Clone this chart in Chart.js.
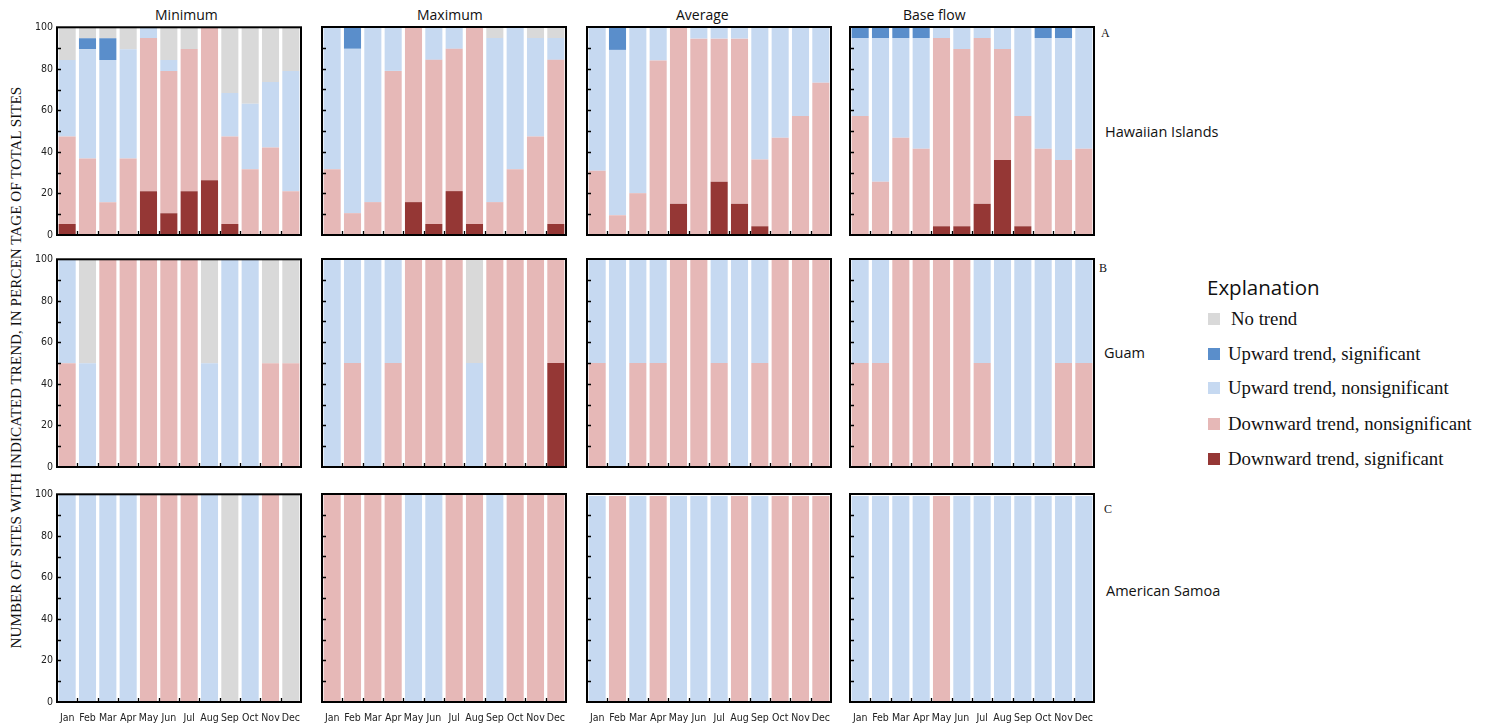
<!DOCTYPE html>
<html>
<head>
<meta charset="utf-8">
<script src="https://cdn.jsdelivr.net/npm/chart.js@4.4.1/dist/chart.umd.min.js"></script>
<style>
  body { margin: 0; background: #fff; width: 1492px; height: 727px; position: relative; overflow: hidden; font-family: 'Open Sans', sans-serif; color: #111; }
  canvas { position: absolute; }
  .t { position: absolute; white-space: nowrap; line-height: 1; }
  .serif { font-family: 'Liberation Serif', 'DejaVu Serif', serif; }
  .sw { position: absolute; width: 12px; height: 12px; }
</style>
</head>
<body>

<div class="t" style="left:155px; top:8px; font-size:14px;">Minimum</div>
<div class="t" style="left:417px; top:8px; font-size:14px;">Maximum</div>
<div class="t" style="left:676px; top:8px; font-size:14px;">Average</div>
<div class="t" style="left:903px; top:8px; font-size:14px;">Base flow</div>

<div class="t serif" style="left:-334px; top:360px; width:700px; text-align:center; font-size:15.2px; transform: rotate(-90deg);">NUMBER OF SITES WITH INDICATED TREND, IN PERCEN TAGE OF TOTAL SITES</div>

<div class="t serif" style="left:1101px; top:27px; font-size:12px;">A</div>
<div class="t serif" style="left:1099px; top:262px; font-size:12px;">B</div>
<div class="t serif" style="left:1104px; top:503px; font-size:12px;">C</div>

<div class="t" style="left:1105px; top:125px; font-size:14.5px;">Hawaiian Islands</div>
<div class="t" style="left:1104px; top:346px; font-size:14.5px;">Guam</div>
<div class="t" style="left:1106px; top:584px; font-size:14.5px;">American Samoa</div>

<div class="t" style="left:1207px; top:277px; font-size:20.5px;">Explanation</div>
<div id="legend"></div>

<script>
const months = ['Jan', 'Feb', 'Mar', 'Apr', 'May', 'Jun', 'Jul', 'Aug', 'Sep', 'Oct', 'Nov', 'Dec'];
const seriesNames = ['Downward trend, significant', 'Downward trend, nonsignificant', 'Upward trend, nonsignificant', 'Upward trend, significant', 'No trend'];
const legendOrder = ['No trend', 'Upward trend, significant', 'Upward trend, nonsignificant', 'Downward trend, nonsignificant', 'Downward trend, significant'];
const yTicks = [0, 20, 40, 60, 80, 100];

// percent of sites, per month. order of each panel: downSig, downNon, upNon, upSig, noTrend
const zero12 = [0, 0, 0, 0, 0, 0, 0, 0, 0, 0, 0, 0];

// Hawaiian Islands
const hiMinDownSig = [5.3, 0, 0, 0, 21.1, 10.5, 21.1, 26.3, 5.3, 0, 0, 0];
const hiMinDownNon = [42.1, 36.8, 15.8, 36.8, 73.7, 68.4, 68.4, 73.7, 42.1, 31.6, 42.1, 21.1];
const hiMinUpNon = [36.8, 52.6, 68.4, 52.6, 5.2, 5.3, 0, 0, 21.0, 31.6, 31.6, 57.8];
const hiMinUpSig = [0, 5.3, 10.5, 0, 0, 0, 0, 0, 0, 0, 0, 0];
const hiMinNone = [15.8, 5.3, 5.3, 10.6, 0, 15.8, 10.5, 0, 31.6, 36.8, 26.3, 21.1];

const hiMaxDownSig = [0, 0, 0, 0, 15.8, 5.3, 21.1, 5.3, 0, 0, 0, 5.3];
const hiMaxDownNon = [31.6, 10.5, 15.8, 78.9, 84.2, 78.9, 68.4, 94.7, 15.8, 31.6, 47.4, 78.9];
const hiMaxUpNon = [68.4, 79.0, 84.2, 21.1, 0, 15.8, 10.5, 0, 78.9, 68.4, 47.3, 10.5];
const hiMaxUpSig = [0, 10.5, 0, 0, 0, 0, 0, 0, 0, 0, 0, 0];
const hiMaxNone = [0, 0, 0, 0, 0, 0, 0, 0, 5.3, 0, 5.3, 5.3];

const hiAvgDownSig = [0, 0, 0, 0, 15.0, 0, 25.6, 15.0, 4.2, 0, 0, 0];
const hiAvgDownNon = [30.9, 9.5, 20.1, 83.9, 85.0, 94.4, 68.8, 79.4, 32.1, 46.8, 57.2, 73.2];
const hiAvgUpNon = [69.1, 79.5, 79.9, 16.1, 0, 5.6, 5.6, 5.6, 63.7, 53.2, 42.8, 26.8];
const hiAvgUpSig = [0, 11.0, 0, 0, 0, 0, 0, 0, 0, 0, 0, 0];
const hiAvgNone = zero12;

const hiBaseDownSig = [0, 0, 0, 0, 4.2, 4.2, 15.0, 36.0, 4.2, 0, 0, 0];
const hiBaseDownNon = [57.2, 25.6, 46.8, 41.5, 90.5, 85.2, 79.7, 53.4, 53.0, 41.5, 36.0, 41.5];
const hiBaseUpNon = [37.5, 69.1, 47.9, 53.2, 5.3, 10.6, 5.3, 10.6, 42.8, 53.2, 58.7, 58.5];
const hiBaseUpSig = [5.3, 5.3, 5.3, 5.3, 0, 0, 0, 0, 0, 5.3, 5.3, 0];
const hiBaseNone = zero12;

// Guam
const guMinDownNon = [50, 0, 100, 100, 100, 100, 100, 0, 0, 0, 50, 50];
const guMinUpNon = [50, 50, 0, 0, 0, 0, 0, 50, 100, 100, 0, 0];
const guMinNone = [0, 50, 0, 0, 0, 0, 0, 50, 0, 0, 50, 50];

const guMaxDownSig = [0, 0, 0, 0, 0, 0, 0, 0, 0, 0, 0, 50];
const guMaxDownNon = [0, 50, 0, 50, 100, 100, 100, 0, 100, 100, 100, 50];
const guMaxUpNon = [100, 50, 100, 50, 0, 0, 0, 50, 0, 0, 0, 0];
const guMaxNone = [0, 0, 0, 0, 0, 0, 0, 50, 0, 0, 0, 0];

const guAvgDownNon = [50, 0, 50, 50, 100, 100, 50, 0, 50, 100, 100, 100];
const guAvgUpNon = [50, 100, 50, 50, 0, 0, 50, 100, 50, 0, 0, 0];

const guBaseDownNon = [50, 50, 100, 100, 100, 100, 50, 0, 0, 0, 50, 50];
const guBaseUpNon = [50, 50, 0, 0, 0, 0, 50, 100, 100, 100, 50, 50];

// American Samoa
const asMinDownNon = [0, 0, 0, 0, 100, 100, 100, 0, 0, 0, 100, 0];
const asMinUpNon = [100, 100, 100, 100, 0, 0, 0, 100, 0, 100, 0, 0];
const asMinNone = [0, 0, 0, 0, 0, 0, 0, 0, 100, 0, 0, 100];

const asMaxDownNon = [99.5, 99.5, 99.5, 99.5, 0, 0, 99.5, 99.5, 0, 99.5, 99.5, 99.5];
const asMaxUpNon = [0, 0, 0, 0, 99.5, 99.5, 0, 0, 99.5, 0, 0, 0];

const asAvgDownNon = [0, 99, 0, 99, 0, 0, 0, 99, 0, 99, 99, 99];
const asAvgUpNon = [99, 0, 99, 0, 99, 99, 99, 0, 99, 0, 0, 0];

const asBaseDownNon = [0, 0, 0, 0, 99, 0, 0, 0, 0, 0, 0, 0];
const asBaseUpNon = [99, 99, 99, 99, 0, 99, 99, 99, 99, 99, 99, 99];

const panels = [
  [[hiMinDownSig, hiMinDownNon, hiMinUpNon, hiMinUpSig, hiMinNone],
   [hiMaxDownSig, hiMaxDownNon, hiMaxUpNon, hiMaxUpSig, hiMaxNone],
   [hiAvgDownSig, hiAvgDownNon, hiAvgUpNon, hiAvgUpSig, hiAvgNone],
   [hiBaseDownSig, hiBaseDownNon, hiBaseUpNon, hiBaseUpSig, hiBaseNone]],
  [[zero12, guMinDownNon, guMinUpNon, zero12, guMinNone],
   [guMaxDownSig, guMaxDownNon, guMaxUpNon, zero12, guMaxNone],
   [zero12, guAvgDownNon, guAvgUpNon, zero12, zero12],
   [zero12, guBaseDownNon, guBaseUpNon, zero12, zero12]],
  [[zero12, asMinDownNon, asMinUpNon, zero12, asMinNone],
   [zero12, asMaxDownNon, asMaxUpNon, zero12, zero12],
   [zero12, asAvgDownNon, asAvgUpNon, zero12, zero12],
   [zero12, asBaseDownNon, asBaseUpNon, zero12, zero12]]
];

const colors = {
  'Downward trend, significant': '#953735',
  'Downward trend, nonsignificant': '#e6b8b7',
  'Upward trend, nonsignificant': '#c6d9f1',
  'Upward trend, significant': '#5a8ecb',
  'No trend': '#d9d9d9'
};

// plot area geometry
const colLeft = [57, 322, 587, 850];
const rowTop = [27, 259, 494];
const PW = 244, PH = 208;
const PAD_L = 40, PAD_T = 10, PAD_R = 10, PAD_B = 28;
const tickFamily = "'Liberation Sans Narrow', 'DejaVu Sans Condensed', Roboto, sans-serif";

// frame + inward tick marks
const framePlugin = {
  id: 'frame',
  afterDatasetsDraw(chart) {
    const { ctx, chartArea: a, scales } = chart;
    ctx.save();
    ctx.strokeStyle = '#000';
    ctx.lineWidth = 1.3;
    ctx.beginPath();
    for (let v = 10; v < 100; v += 10) {
      const y = Math.round(scales.y.getPixelForValue(v)) + 0.5;
      ctx.moveTo(a.left, y);
      ctx.lineTo(a.left + 4, y);
    }
    for (let i = 1; i < months.length; i++) {
      const x = Math.round((scales.x.getPixelForValue(i - 1) + scales.x.getPixelForValue(i)) / 2) + 0.5;
      ctx.moveTo(x, a.bottom);
      ctx.lineTo(x, a.bottom - 4);
    }
    ctx.stroke();
    ctx.lineWidth = 2;
    ctx.strokeRect(a.left, a.top, a.width, a.height);
    ctx.restore();
  }
};

function makePanel(row, col) {
  const cv = document.createElement('canvas');
  cv.width = PW + PAD_L + PAD_R;
  cv.height = PH + PAD_T + PAD_B;
  cv.style.left = (colLeft[col] - PAD_L) + 'px';
  cv.style.top = (rowTop[row] - PAD_T) + 'px';
  document.body.appendChild(cv);

  const showY = col === 0;
  const showX = row === 2;
  const datasets = panels[row][col].map((vals, i) => ({
    label: seriesNames[i],
    data: vals,
    backgroundColor: colors[seriesNames[i]],
    borderWidth: 0,
    barPercentage: 0.84,
    categoryPercentage: 1.0
  }));

  new Chart(cv.getContext('2d'), {
    type: 'bar',
    data: { labels: months, datasets },
    options: {
      responsive: false,
      animation: false,
      layout: { padding: { top: PAD_T, right: PAD_R, left: 0, bottom: 0 } },
      plugins: { legend: { display: false }, tooltip: { enabled: false } },
      scales: {
        x: {
          stacked: true,
          grid: { display: false, drawTicks: false },
          border: { display: false },
          ticks: { display: showX, font: { family: tickFamily, size: 10.5 }, color: '#222', padding: 10, maxRotation: 0, autoSkip: false },
          afterFit: s => { s.height = PAD_B; }
        },
        y: {
          stacked: true,
          min: 0,
          max: 100,
          grid: { display: false, drawTicks: false },
          border: { display: false },
          afterBuildTicks: s => { s.ticks = yTicks.map(v => ({ value: v })); },
          ticks: { display: showY, font: { family: tickFamily, size: 10.5 }, color: '#222', padding: 4 },
          afterFit: s => { s.width = PAD_L; }
        }
      }
    },
    plugins: [framePlugin]
  });
}

for (let r = 0; r < 3; r++) {
  for (let c = 0; c < 4; c++) makePanel(r, c);
}

// legend (explanation)
const legendY = [319, 354, 388, 424, 459];
const legendDiv = document.getElementById('legend');
legendOrder.forEach((name, i) => {
  const sw = document.createElement('div');
  sw.className = 'sw';
  sw.style.left = '1208px';
  sw.style.top = (legendY[i] - 6) + 'px';
  sw.style.background = colors[name];
  legendDiv.appendChild(sw);
  const tx = document.createElement('div');
  tx.className = 't serif';
  tx.style.left = (i === 0 ? 1231 : 1228) + 'px';
  tx.style.top = (legendY[i] - 9) + 'px';
  tx.style.fontSize = '18.8px';
  tx.textContent = name;
  legendDiv.appendChild(tx);
});
</script>
</body>
</html>
